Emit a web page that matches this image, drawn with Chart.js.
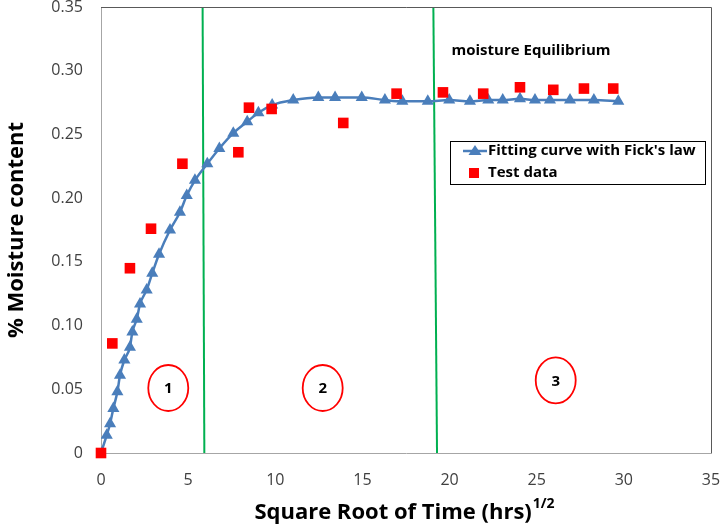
<!DOCTYPE html>
<html>
<head>
<meta charset="utf-8">
<title>Moisture content vs square root of time</title>
<script src="https://cdn.jsdelivr.net/npm/chart.js"></script>
<style>
    html, body { margin: 0; padding: 0; background: #fff; }
    #wrap { width: 722px; height: 525px; }
</style>
</head>
<body>
<div id="wrap"><canvas id="moistureChart" width="722" height="525"></canvas></div>
<script>
// Fitting curve (Fick's law)
const fitX = [0, 0.33, 0.52, 0.71, 0.94, 1.09, 1.34, 1.66, 1.80, 2.05, 2.24, 2.62, 2.94, 3.33, 3.96,
    4.53, 4.92, 5.39, 6.10, 6.79, 7.59, 8.39, 9.03, 9.82, 11.03, 12.47, 13.43, 14.96, 16.29, 17.29,
    18.75, 19.98, 21.17, 22.22, 23.05, 24.04, 24.90, 25.76, 26.91, 28.28, 29.68];
const fitY = [0, 0.014, 0.023, 0.035, 0.048, 0.061, 0.073, 0.083, 0.095, 0.105, 0.117, 0.128, 0.141, 0.156, 0.175,
    0.189, 0.202, 0.214, 0.227, 0.239, 0.251, 0.260, 0.267, 0.273, 0.277, 0.279, 0.279, 0.279, 0.277, 0.276,
    0.276, 0.277, 0.276, 0.277, 0.277, 0.278, 0.277, 0.277, 0.277, 0.277, 0.276];

// Test data
const testX = [0, 0.65, 1.66, 2.87, 4.67, 7.88, 8.49, 9.79, 13.90, 16.96, 19.62, 21.93, 24.04, 25.95, 27.71, 29.39];
const testY = [0, 0.086, 0.145, 0.176, 0.227, 0.236, 0.271, 0.270, 0.259, 0.282, 0.283, 0.282, 0.287, 0.285, 0.286, 0.286];

// Zone boundaries (green lines), top and bottom ends
const boundary1X = [5.83, 5.93];
const boundary2X = [19.07, 19.28];
const boundaryY = [0.35, 0];

// Axis ticks
const xTicks = [0, 5, 10, 15, 20, 25, 30, 35];
const yTicks = [0, 0.05, 0.10, 0.15, 0.20, 0.25, 0.30, 0.35];

// Zone labels (circled numbers)
const zoneLabels = ['1', '2', '3'];
const zoneX = [3.86, 12.72, 26.09];
const zoneY = [0.051, 0.051, 0.057];

const legendLabels = ["Fitting curve with Fick's law", 'Test data'];

const FONT = '"Open Sans", Lato, sans-serif';
const BLUE = '#4a7ebb';
const RED = '#ff0000';
const GREEN = '#00b050';

const toPoints = (xs, ys) => xs.map((x, i) => ({ x: x, y: ys[i] }));

// no extra room for the outer tick labels
const noEdgePadding = (scale) => {
    scale.paddingTop = 0;
    scale.paddingBottom = 0;
    scale.paddingLeft = 0;
    scale.paddingRight = 0;
};

// Draws the plot frame, zone circles, note text, legend and x title
const decorations = {
    id: 'decorations',
    afterDraw(chart) {
        const ctx = chart.ctx;
        const area = chart.chartArea;
        const xs = chart.scales.x;
        const ys = chart.scales.y;
        ctx.save();

        // top / right frame
        ctx.strokeStyle = '#595959';
        ctx.lineWidth = 1;
        ctx.beginPath();
        ctx.moveTo(area.left, area.top + 0.5);
        ctx.lineTo(area.right + 0.5, area.top + 0.5);
        ctx.lineTo(area.right + 0.5, area.bottom);
        ctx.stroke();

        // circled zone numbers
        zoneLabels.forEach((label, i) => {
            const cx = xs.getPixelForValue(zoneX[i]);
            const cy = ys.getPixelForValue(zoneY[i]);
            ctx.beginPath();
            ctx.ellipse(cx, cy, 20, 23, 0, 0, Math.PI * 2);
            ctx.strokeStyle = RED;
            ctx.lineWidth = 1.8;
            ctx.stroke();
            ctx.fillStyle = '#000';
            ctx.font = 'bold 15px ' + FONT;
            ctx.textAlign = 'center';
            ctx.textBaseline = 'middle';
            ctx.fillText(label, cx, cy + 1);
        });

        // note
        ctx.fillStyle = '#000';
        ctx.font = 'bold 15px ' + FONT;
        ctx.textAlign = 'center';
        ctx.textBaseline = 'middle';
        ctx.fillText('moisture Equilibrium', 531, 51);

        // legend box
        ctx.fillStyle = '#fff';
        ctx.fillRect(450, 141, 255, 43);
        ctx.strokeStyle = '#000';
        ctx.lineWidth = 1;
        ctx.strokeRect(450.5, 141.5, 255, 43);

        // legend: line + triangle
        ctx.strokeStyle = BLUE;
        ctx.lineWidth = 2.5;
        ctx.beginPath();
        ctx.moveTo(463, 151);
        ctx.lineTo(487, 151);
        ctx.stroke();
        ctx.fillStyle = BLUE;
        ctx.beginPath();
        ctx.moveTo(475, 145);
        ctx.lineTo(481.5, 155);
        ctx.lineTo(468.5, 155);
        ctx.closePath();
        ctx.fill();

        // legend: square
        ctx.fillStyle = RED;
        ctx.fillRect(469, 168, 10, 10);

        ctx.fillStyle = '#000';
        ctx.font = 'bold 15px ' + FONT;
        ctx.textAlign = 'left';
        ctx.textBaseline = 'middle';
        ctx.fillText(legendLabels[0], 488, 151);
        ctx.fillText(legendLabels[1], 488, 173);

        // x axis title with superscript
        const main = 'Square Root of Time (hrs)';
        const sup = '1/2';
        ctx.font = 'bold 22px ' + FONT;
        const wMain = ctx.measureText(main).width;
        ctx.font = 'bold 14px ' + FONT;
        const wSup = ctx.measureText(sup).width;
        const startX = 404 - (wMain + wSup) / 2;
        ctx.textAlign = 'left';
        ctx.textBaseline = 'alphabetic';
        ctx.font = 'bold 22px ' + FONT;
        ctx.fillText(main, startX, 519);
        ctx.font = 'bold 14px ' + FONT;
        ctx.fillText(sup, startX + wMain + 1, 508);

        ctx.restore();
    }
};

new Chart(document.getElementById('moistureChart'), {
    type: 'scatter',
    data: {
        datasets: [
            {
                label: legendLabels[1],
                data: toPoints(testX, testY),
                pointStyle: 'rect',
                pointRadius: 7.5,
                pointHoverRadius: 7.5,
                backgroundColor: RED,
                borderColor: RED,
                borderWidth: 0,
                showLine: false,
                clip: false
            },
            {
                label: legendLabels[0],
                data: toPoints(fitX, fitY),
                showLine: true,
                tension: 0.4,
                cubicInterpolationMode: 'monotone',
                borderColor: BLUE,
                borderWidth: 2.5,
                pointStyle: 'triangle',
                pointRadius: 7,
                pointHoverRadius: 7,
                pointBackgroundColor: BLUE,
                pointBorderColor: BLUE,
                pointBorderWidth: 0
            },
            {
                label: 'zone boundary 1',
                data: toPoints(boundary1X, boundaryY),
                showLine: true,
                borderColor: GREEN,
                borderWidth: 2,
                pointRadius: 0
            },
            {
                label: 'zone boundary 2',
                data: toPoints(boundary2X, boundaryY),
                showLine: true,
                borderColor: GREEN,
                borderWidth: 2,
                pointRadius: 0
            }
        ]
    },
    options: {
        responsive: false,
        animation: false,
        layout: {
            autoPadding: false,
            padding: { left: 0, top: 7, right: 11, bottom: 0 }
        },
        plugins: {
            legend: { display: false },
            tooltip: { enabled: false }
        },
        scales: {
            x: {
                type: 'linear',
                min: 0,
                max: 35,
                afterBuildTicks: (scale) => { scale.ticks = xTicks.map(v => ({ value: v })); },
                afterFit: (scale) => { scale.height = 72; noEdgePadding(scale); },
                grid: { display: false, drawTicks: false },
                border: { display: true, color: '#a6a6a6', width: 1 },
                ticks: {
                    color: '#404040',
                    padding: 18,
                    font: { family: FONT, size: 16 }
                }
            },
            y: {
                type: 'linear',
                min: 0,
                max: 0.35,
                afterBuildTicks: (scale) => { scale.ticks = yTicks.map(v => ({ value: v })); },
                afterFit: (scale) => { scale.width = 101; noEdgePadding(scale); },
                grid: { display: false, drawTicks: false },
                border: { display: true, color: '#a6a6a6', width: 1 },
                ticks: {
                    color: '#404040',
                    padding: 18,
                    font: { family: FONT, size: 16 },
                    callback: (value) => value === 0 ? '0' : value.toFixed(2)
                },
                title: {
                    display: true,
                    text: '% Moisture content',
                    color: '#000',
                    padding: { top: 4, bottom: 0 },
                    font: { family: FONT, size: 22, weight: 'bold' }
                }
            }
        }
    },
    plugins: [decorations]
});
</script>
</body>
</html>
